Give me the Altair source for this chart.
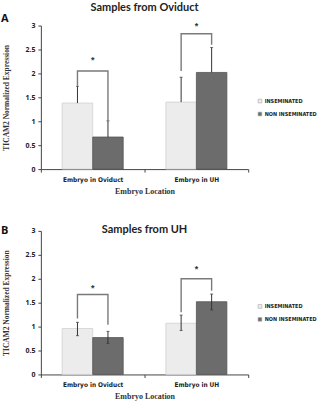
import altair as alt
import pandas as pd

categories = ["Embryo in Oviduct", "Embryo in UH"]
groups = ["INSEMINATED", "NON INSEMINATED"]

# Panel A (Samples from Oviduct): mean and error-bar ends, order: cat x group
a_mean = [1.38, 0.67, 1.40, 2.02]
a_low = [1.38, 0.67, 1.40, 2.02]
a_high = [1.73, 1.01, 1.92, 2.54]
# significance brackets per category
a_br_left = [1.74, 2.05]
a_br_top = [2.05, 2.83]
a_br_right = [1.02, 2.60]
a_star = [2.28, 3.00]

# Panel B (Samples from UH)
b_mean = [0.96, 0.77, 1.07, 1.52]
b_low = [0.81, 0.65, 0.92, 1.35]
b_high = [1.09, 0.90, 1.24, 1.68]
b_br_left = [1.17, 1.30]
b_br_top = [1.67, 2.00]
b_br_right = [1.04, 1.75]
b_star = [1.80, 2.20]

y_ticks = [0, 0.5, 1, 1.5, 2, 2.5, 3]

LIGHT = "#ececec"
DARK = "#6c6c6c"
W, H = 208, 144
NARROW = "DejaVu Sans Condensed, Roboto, Liberation Sans, sans-serif"

YAXIS = alt.Axis(
    values=y_ticks,
    format=".1~f",
    labelOverlap=False,
    grid=False,
    tickSize=3,
    tickColor="#444",
    domainColor="#444",
    labelFont="Open Sans",
    labelFontWeight="bold",
    labelFontSize=7,
    labelColor="#222",
    labelPadding=3,
    titleFont="Liberation Serif",
    titleFontWeight="bold",
    titleFontSize=7.5,
    titleColor="#333",
    titlePadding=14,
)
YTITLE = "TICAM2 Normalized Expression"
XAXIS = alt.Axis(
    labelAngle=0,
    tickBand="extent",
    tickSize=3,
    tickColor="#444",
    domainColor="#444",
    labelFont=NARROW,
    labelFontWeight="bold",
    labelFontSize=6.5,
    labelColor="#222",
    labelPadding=4,
    titleFont="Liberation Serif",
    titleFontWeight="bold",
    titleFontSize=8,
    titleColor="#333",
    titlePadding=5,
)
XTITLE = "Embryo Location"


def panel(mean, low, high, brl, brt, brr, star, title, letter, inside_title):
    rows = []
    i = 0
    for c in categories:
        for g in groups:
            rows.append({"cat": c, "grp": g, "val": mean[i], "lo": low[i], "hi": high[i]})
            i += 1
    df = pd.DataFrame(rows)

    br = []
    for k, c in enumerate(categories):
        br.append({"cat": c, "grp": groups[0], "v": brl[k], "o": 0})
        br.append({"cat": c, "grp": groups[0], "v": brt[k], "o": 1})
        br.append({"cat": c, "grp": groups[1], "v": brt[k], "o": 2})
        br.append({"cat": c, "grp": groups[1], "v": brr[k], "o": 3})
    dbr = pd.DataFrame(br)
    dstar = pd.DataFrame({"cat": categories, "v": star, "t": ["*", "*"]})

    xscale = alt.Scale(domain=categories, paddingInner=0, paddingOuter=0)
    yscale = alt.Scale(domain=[0, 3])

    def X():
        return alt.X("cat:N", sort=categories, scale=xscale, axis=XAXIS, title=XTITLE)

    def XO():
        return alt.XOffset(
            "grp:N", sort=groups, scale=alt.Scale(domain=groups, paddingInner=0, paddingOuter=0.7)
        )

    def Y(f):
        return alt.Y(f, scale=yscale, axis=YAXIS, title=YTITLE)

    base = alt.Chart(df)
    bars = base.mark_bar(strokeWidth=0.8).encode(
        x=X(),
        xOffset=XO(),
        y=Y("val:Q"),
        color=alt.Color(
            "grp:N",
            sort=groups,
            scale=alt.Scale(domain=groups, range=[LIGHT, DARK]),
            legend=alt.Legend(
                title=None,
                orient="none",
                legendX=217,
                legendY=73,
                symbolType="square",
                symbolSize=14,
                symbolStrokeColor="#aaaaaa",
                symbolStrokeWidth=0.6,
                labelFont=NARROW,
                labelFontWeight="bold",
                labelFontSize=5.5,
                labelColor="#222",
                rowPadding=5,
                labelOffset=2,
            ),
        ),
        stroke=alt.Stroke(
            "grp:N",
            sort=groups,
            scale=alt.Scale(domain=groups, range=["#d0d0d0", "#555555"]),
            legend=None,
        ),
    )
    err = base.mark_rule(color="#333", strokeWidth=1).encode(
        x=X(), xOffset=XO(), y=Y("lo:Q"), y2="hi:Q",
    )
    cap_hi = base.mark_tick(color="#333", thickness=1, size=3).encode(
        x=X(), xOffset=XO(), y=Y("hi:Q"),
    )
    layers = [bars, err, cap_hi]
    if any(l != m for l, m in zip(low, mean)):
        cap_lo = base.mark_tick(color="#333", thickness=1, size=3).encode(
            x=X(), xOffset=XO(), y=Y("lo:Q"),
        )
        layers.append(cap_lo)

    bracket = alt.Chart(dbr).mark_line(color="#7a7a7a", strokeWidth=1.4).encode(
        x=X(), xOffset=XO(), y=Y("v:Q"), detail="cat:N", order="o:Q",
    )
    stars = alt.Chart(dstar).mark_text(fontSize=9, fontWeight="bold", color="#333", baseline="middle").encode(
        x=X(), y=Y("v:Q"), text="t:N",
    )
    lab = alt.Chart(pd.DataFrame({"t": [letter]})).mark_text(
        align="left", baseline="middle", fontSize=11, fontWeight="bold", font="Open Sans", color="#111"
    ).encode(text="t:N", x=alt.value(-40), y=alt.value(-7 if not inside_title else 0))
    layers += [bracket, stars, lab]

    tp = dict(text=title, fontSize=11, font="Lato", fontWeight="bold", color="#222", anchor="middle")
    if inside_title:
        tp.update(baseline="middle", offset=-16)
    else:
        tp.update(offset=0)
    return alt.layer(*layers).properties(width=W, height=H, title=alt.TitleParams(**tp)).resolve_scale(
        color="independent"
    )


pa = panel(a_mean, a_low, a_high, a_br_left, a_br_top, a_br_right, a_star, "Samples from Oviduct", "A", False)
pb = panel(b_mean, b_low, b_high, b_br_left, b_br_top, b_br_right, b_star, "Samples from UH", "B", True)

chart = alt.vconcat(pa, pb, spacing=28).resolve_scale(color="independent", stroke="independent").resolve_legend(
    color="independent"
).properties(padding={"left": 1, "top": 1, "right": 0, "bottom": 0}).configure_view(stroke=None)

chart.save("out.html", embed_options={"renderer": "svg", "actions": False})
